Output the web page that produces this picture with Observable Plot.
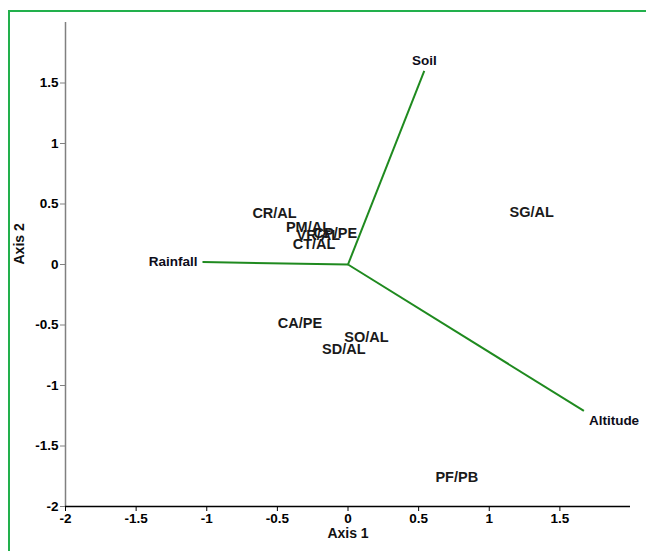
<!DOCTYPE html>
<html>
<head>
<meta charset="utf-8">
<script src="https://cdn.jsdelivr.net/npm/d3@7"></script>
<script src="https://cdn.jsdelivr.net/npm/@observablehq/plot@0.6"></script>
<style>
  html, body { margin: 0; padding: 0; background: #fff; }
  #wrap { position: relative; width: 646px; height: 551px; overflow: hidden; }
  #frame { position: absolute; left: 8px; top: 10px; width: 700px; height: 600px;
           border-top: 2px solid #22b04c; border-left: 2px solid #22b04c; }
  #chart { position: absolute; left: 0; top: 0; }
  #chart svg text { font-family: "Liberation Sans", Arial, sans-serif; font-weight: bold; }
</style>
</head>
<body>
<div id="wrap"><div id="frame"></div><div id="chart"></div></div>
<script>
// Sample (site) scores
const siteNames = ["CR/AL", "PM/AL", "VR/AL", "CP/PE", "CT/AL", "SG/AL", "CA/PE", "SO/AL", "SD/AL", "PF/PB"];
const siteX = [-0.52, -0.28, -0.21, -0.09, -0.24, 1.30, -0.34, 0.13, -0.03, 0.77];
const siteY = [0.42, 0.31, 0.24, 0.26, 0.17, 0.43, -0.49, -0.60, -0.70, -1.76];

// Environmental vectors
const vectorNames = ["Soil", "Rainfall", "Altitude"];
const vectorX = [0.54, -1.03, 1.67];
const vectorY = [1.60, 0.02, -1.21];

// Axis ticks
const xTicks = [-2, -1.5, -1, -0.5, 0, 0.5, 1, 1.5];
const yTicks = [-2, -1.5, -1, -0.5, 0, 0.5, 1, 1.5];

const sites = siteNames.map((n, i) => ({name: n, x: siteX[i], y: siteY[i]}));
const vectors = vectorNames.map((n, i) => ({name: n, x: vectorX[i], y: vectorY[i]}));

const labelPlacement = {
  Soil: {anchor: "middle", dx: 0, dy: -10},
  Rainfall: {anchor: "end", dx: -5, dy: 0},
  Altitude: {anchor: "start", dx: 5, dy: 10}
};

const fmt = d => String(d);

const chart = Plot.plot({
  width: 646,
  height: 551,
  marginLeft: 65,
  marginRight: 16,
  marginTop: 22,
  marginBottom: 45,
  x: {domain: [-2, 2]},
  y: {domain: [-2, 2]},
  marks: [
    Plot.axisX({ticks: xTicks, tickFormat: fmt, tickSize: 5, tickPadding: 2, fontSize: 13.5, label: null, stroke: "#000", fill: "#000"}),
    Plot.axisY({ticks: yTicks, tickFormat: fmt, tickSize: 5, tickPadding: 2, fontSize: 13.5, label: null, stroke: "#808080", fill: "#000"}),
    Plot.ruleX([-2], {stroke: "#808080", strokeWidth: 1.5}),
    Plot.ruleY([-2], {stroke: "#000", strokeWidth: 1.5}),
    Plot.link(vectors, {x1: () => 0, y1: () => 0, x2: "x", y2: "y", stroke: "#1f8a1f", strokeWidth: 2}),
    ...vectors.map(v => Plot.text([v], {
      x: "x", y: "y", text: "name",
      textAnchor: labelPlacement[v.name].anchor,
      dx: labelPlacement[v.name].dx, dy: labelPlacement[v.name].dy,
      fontSize: 13.5, fill: "#0d0d1a"
    })),
    Plot.text(sites, {x: "x", y: "y", text: "name", fontSize: 14.5, fill: "#1a1a1a"}),
    Plot.text(["Axis 1"], {frameAnchor: "bottom", dy: 31, fontSize: 14, fill: "#111"}),
    Plot.text(["Axis 2"], {frameAnchor: "left", dx: -46, rotate: -90, fontSize: 14, fill: "#111"})
  ]
});
document.getElementById("chart").appendChild(chart);
</script>
</body>
</html>
